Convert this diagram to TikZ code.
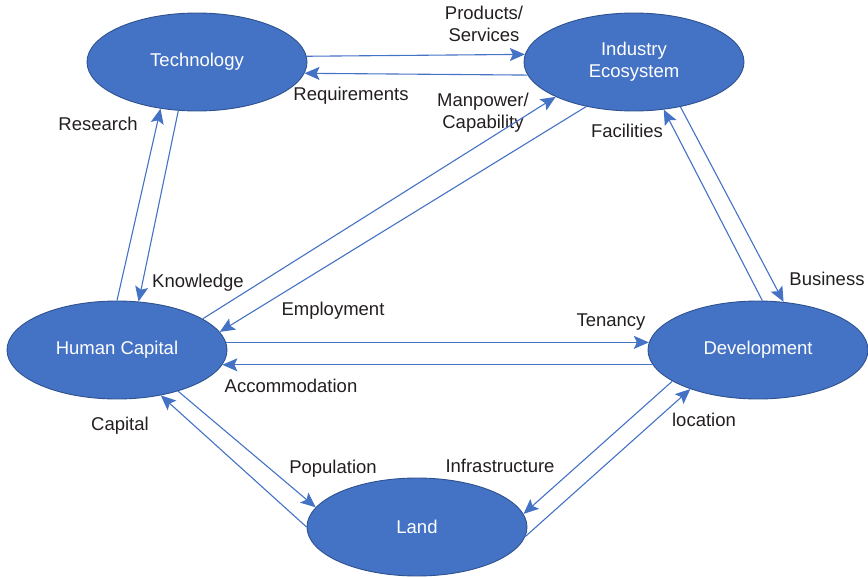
\documentclass[tikz,border=0pt]{standalone}
\usepackage{fontspec}
\setmainfont{Liberation Sans}
\usetikzlibrary{arrows.meta, shapes.geometric}
\definecolor{flowblue}{HTML}{4472C4}
\definecolor{rimblue}{HTML}{2F528F}
\definecolor{labelgray}{HTML}{231F20}

\begin{document}
\begin{tikzpicture}[
    x=1pt, y=-1pt,
    font=\fontsize{18.5}{22}\selectfont,
    factor/.style={ellipse, draw=rimblue, line width=0.9pt, fill=flowblue, text=white, minimum width=220pt, minimum height=98pt, inner sep=0pt, align=center},
    flowlabel/.style={text=labelgray, inner sep=0pt, align=center},
    arrow/.style={-{Stealth[length=15pt, width=13pt, inset=3pt]}, flowblue, line width=1.1pt}
]
\useasboundingbox (0,0) rectangle (868,578);

% Factors
\node[factor] (Technology) at (197,62) {Technology};
\node[factor] (Industry) at (634,62) {Industry\\Ecosystem};
\node[factor] (Human) at (117,350) {Human Capital};
\node[factor] (Development) at (758,350) {Development};
\node[factor] (Land) at (417,527) {Land};

% Flow labels
\node[flowlabel] (Products) at (484,24) {Products/\\Services};
\node[flowlabel] (Requirements) at (351,96) {Requirements};
\node[flowlabel] (Manpower) at (483,113) {Manpower/\\Capability};
\node[flowlabel] (Facilities) at (627,131) {Facilities};
\node[flowlabel] (Research) at (98,124) {Research};
\node[flowlabel] (Knowledge) at (198,283) {Knowledge};
\node[flowlabel] (Employment) at (333,311) {Employment};
\node[flowlabel] (Tenancy) at (611,322) {Tenancy};
\node[flowlabel] (Business) at (827,279) {Business};
\node[flowlabel] (Accommodation) at (291,386) {Accommodation};
\node[flowlabel] (Capital) at (120,426) {Capital};
\node[flowlabel] (Location) at (704,420) {location};
\node[flowlabel] (Population) at (333,469) {Population};
\node[flowlabel] (Infrastructure) at (500,466) {Infrastructure};

% Technology <-> Industry
\draw[arrow] (Technology.3.4) -- (Industry.176.6);
\draw[arrow] (Industry.-173.4) -- (Technology.-6.6);

% Technology <-> Human Capital
\draw[arrow] (Human.90) -- (Technology.-128);
\draw[arrow] (Technology.-111) -- (Human.66);

% Industry <-> Human Capital
\draw[arrow] (Human.20) -- (Industry.-156);
\draw[arrow] (Industry.-137) -- (Human.10);

% Industry <-> Development
\draw[arrow] (Development.85) -- (Industry.-58);
\draw[arrow] (Industry.-44) -- (Development.62);

% Human Capital <-> Development
\draw[arrow] (Human.4) -- (Development.176);
\draw[arrow] (Development.-172) -- (Human.-8);

% Human Capital <-> Land
\draw[arrow] (Human.-34) -- (Land.169);
\draw[arrow] (Land.180) -- (Human.-46);

% Development <-> Land
\draw[arrow] (Development.-160) -- (Land.7);
\draw[arrow] (Land.-5) -- (Development.-150);

\end{tikzpicture}
\end{document}
